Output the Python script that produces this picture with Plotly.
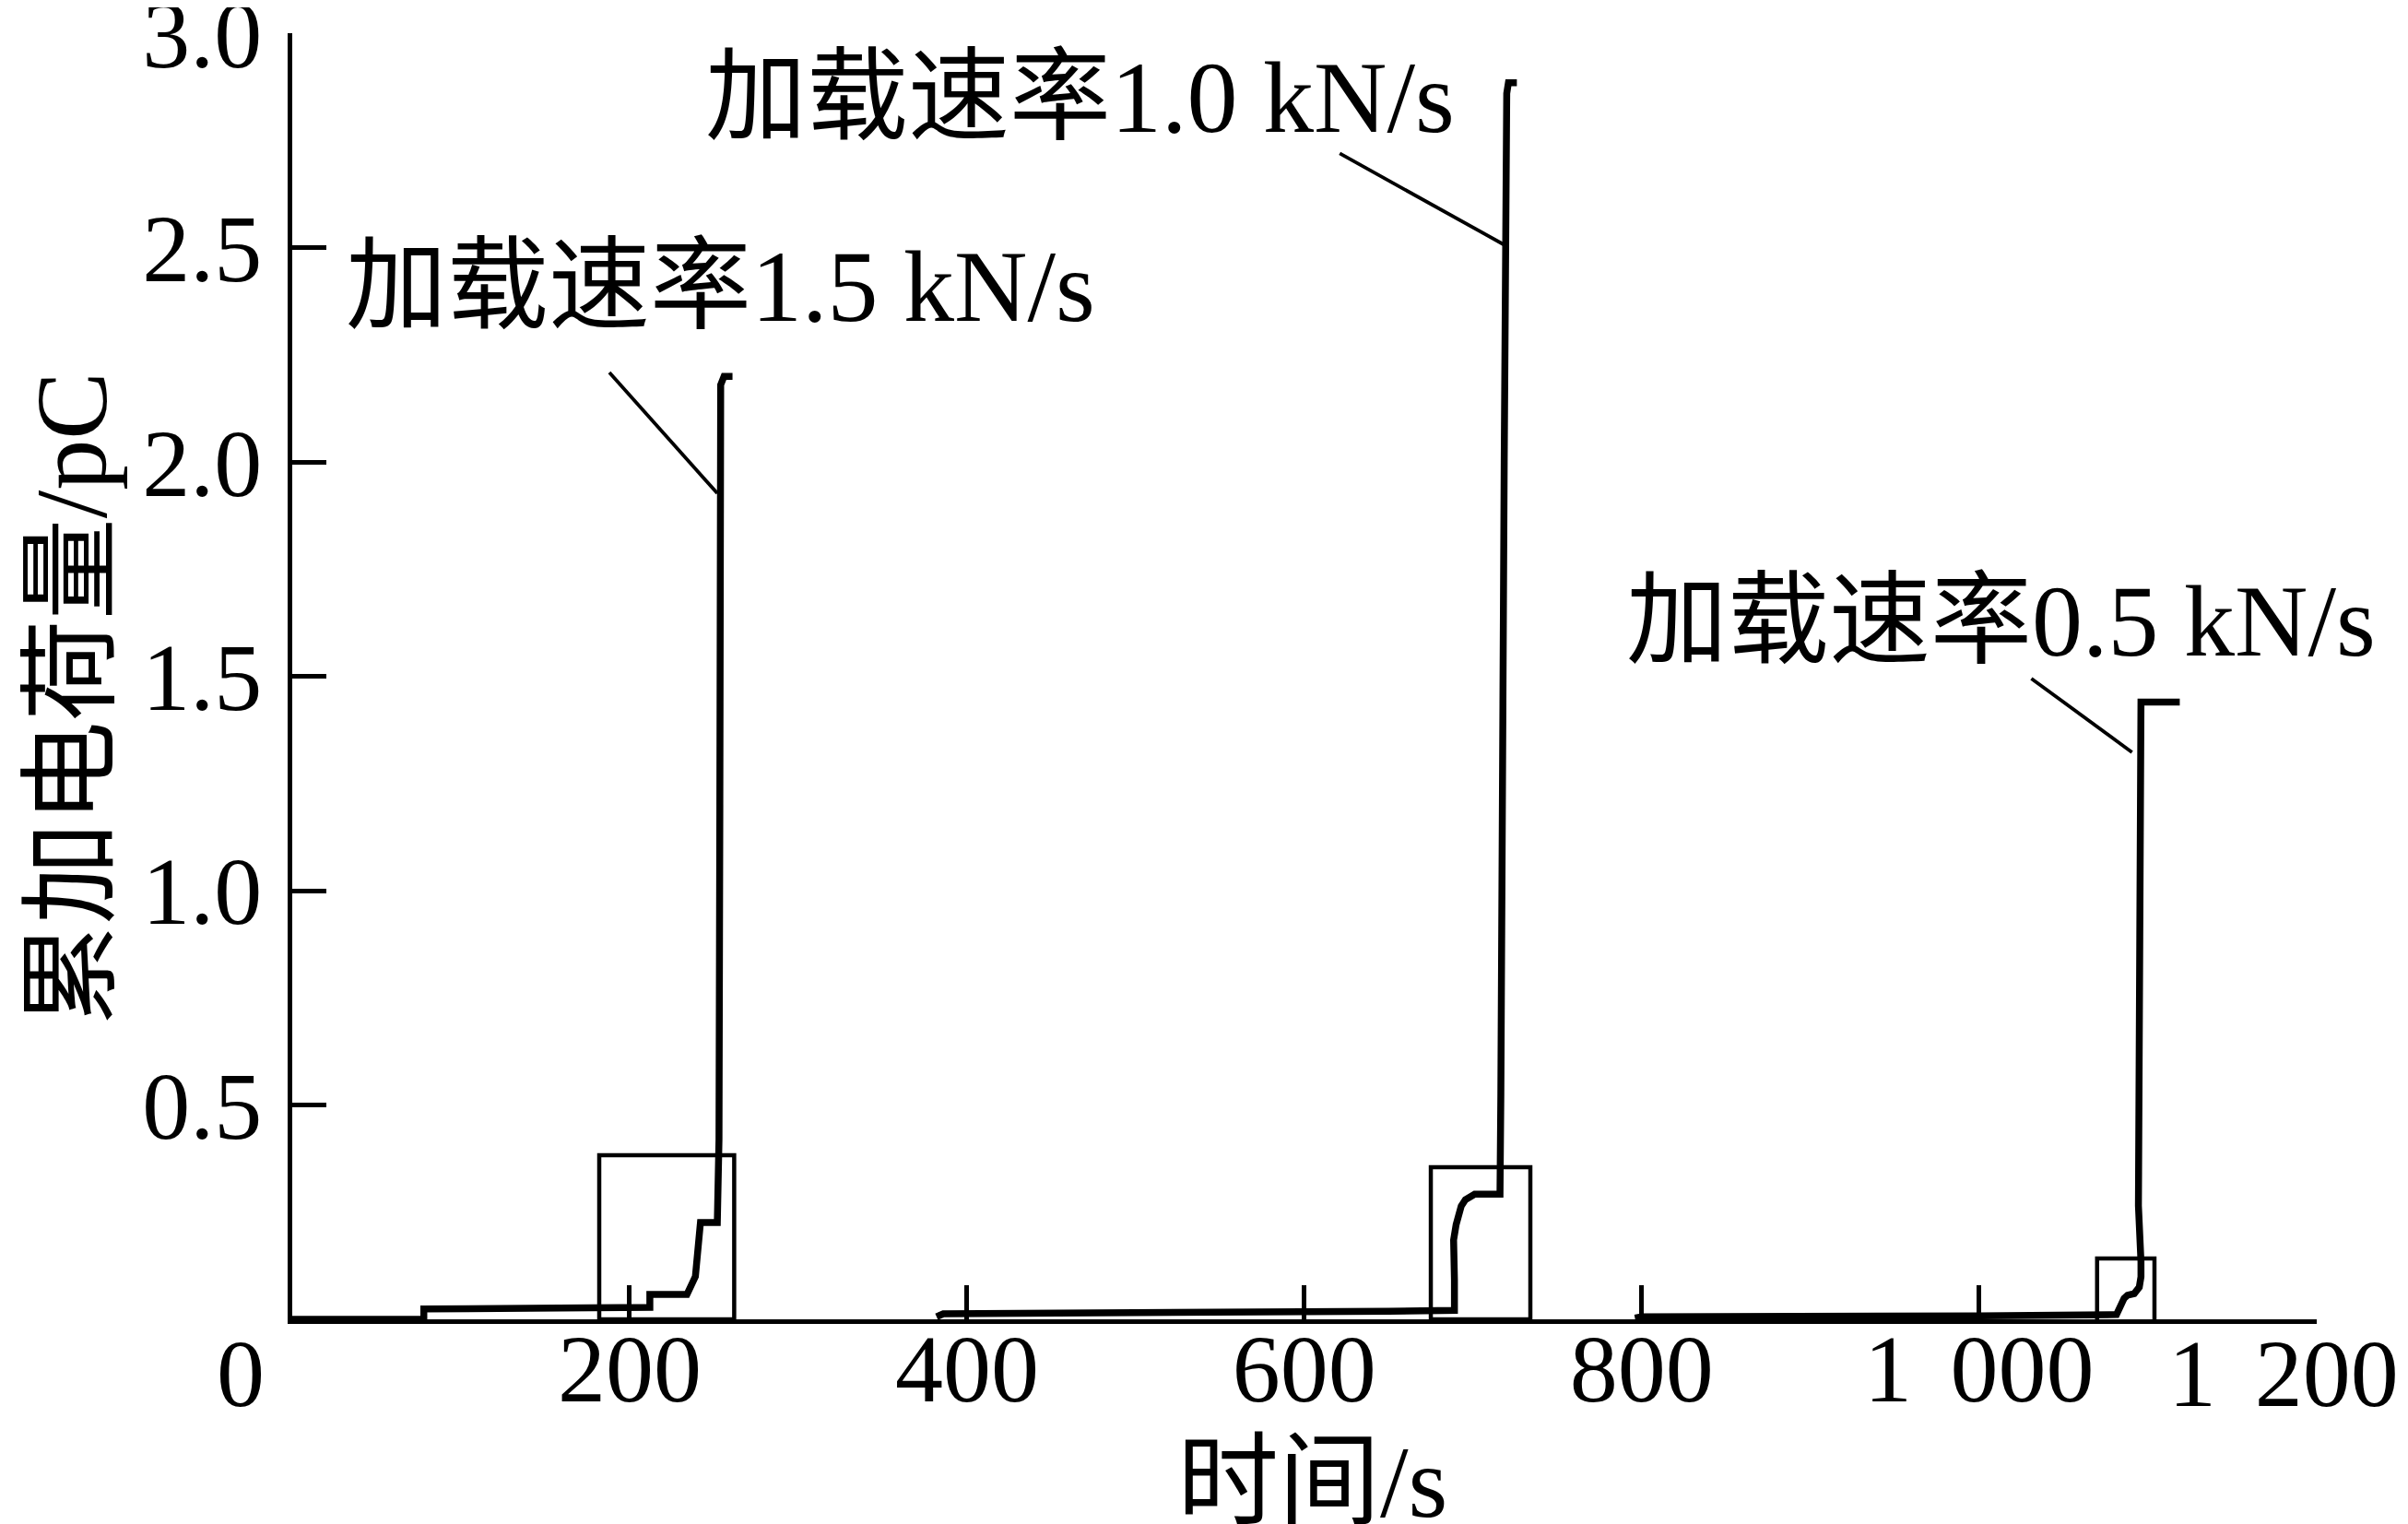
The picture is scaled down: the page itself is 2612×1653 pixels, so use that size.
import plotly.graph_objects as go

# ---- data ----
t_15 = [0, 78, 78, 212, 212, 234, 239, 242, 252, 253, 253.5, 254, 256, 261]
q_15 = [0, 0, 0.024, 0.028, 0.058, 0.058, 0.10, 0.226, 0.226, 0.42, 1.2, 2.18, 2.2, 2.2]

t_10 = [382, 386, 650, 689, 689, 688.5, 690, 693, 695.5, 701, 716, 716, 716.5, 718.5, 719.5, 720, 721, 726]
q_10 = [0.006, 0.013, 0.019, 0.021, 0.092, 0.185, 0.221, 0.264, 0.279, 0.292, 0.292, 0.357, 0.52, 2.0, 2.7, 2.86, 2.885, 2.885]

t_05 = [796, 800, 1000, 1081.5, 1086, 1088, 1092, 1095, 1096, 1096, 1094.5, 1095, 1096, 1119]
q_05 = [0.003, 0.006, 0.008, 0.011, 0.049, 0.056, 0.06, 0.075, 0.099, 0.135, 0.265, 1.42, 1.44, 1.44]

# zoom boxes
box_t0 = [182, 675, 1070]
box_t1 = [262, 734, 1104]
box_q0 = [0, 0, -0.01]
box_q1 = [0.383, 0.355, 0.142]

# labels and leader lines
labels = ["加载速率1.5 kN/s", "加载速率1.0 kN/s", "加载速率0.5 kN/s"]
label_t = [253.6, 467, 1012.8]
label_q = [2.41, 2.85, 1.628]
lead_t0 = [188, 621, 1031]
lead_q0 = [2.209, 2.72, 1.495]
lead_t1 = [252, 718, 1090.7]
lead_q1 = [1.927, 2.508, 1.323]

x_tickvals = [200, 400, 600, 800, 1000, 1200]
x_ticktext = ["200", "400", "600", "800", "1\u2009\u2009000", ""]
last_x_label = "1\u2009\u2009200"
y_tickvals = [0.5, 1.0, 1.5, 2.0, 2.5, 3.0]
y_ticktext = ["0.5", "1.0", "1.5", "2.0", "2.5", "3.0"]

x_title = "时间/s"
y_title = "累加电荷量/pC"

FONT = "Liberation Serif, Times New Roman, Noto Sans CJK SC"

fig = go.Figure()
for tt, qq in [(t_15, q_15), (t_10, q_10), (t_05, q_05)]:
    fig.add_trace(go.Scatter(x=tt, y=qq, mode="lines",
                             line=dict(color="black", width=7.5),
                             showlegend=False, hoverinfo="skip"))

shapes = []
for a, b, c, d in zip(box_t0, box_t1, box_q0, box_q1):
    shapes.append(dict(type="rect", xref="x", yref="y", x0=a, x1=b, y0=c, y1=d,
                       line=dict(color="black", width=4.5), fillcolor="rgba(0,0,0,0)"))
for a, b, c, d in zip(lead_t0, lead_t1, lead_q0, lead_q1):
    shapes.append(dict(type="line", xref="x", yref="y", x0=a, x1=b, y0=c, y1=d,
                       line=dict(color="black", width=3.8)))

annotations = []
for txt, tx, ty in zip(labels, label_t, label_q):
    annotations.append(dict(x=tx, y=ty, xref="x", yref="y", text=txt, showarrow=False,
                            xanchor="center", yanchor="middle",
                            font=dict(family=FONT, size=110, color="black")))
# "0" origin label (offset left of the axis as in the reference)
annotations.append(dict(x=0, y=0, xref="x", yref="y", text="0", showarrow=False,
                        xanchor="center", yanchor="middle", xshift=-56, yshift=-58,
                        font=dict(family=FONT, size=104, color="black")))
# last x label (shifted left as in the reference)
annotations.append(dict(x=1200, y=0, xref="x", yref="y", text=last_x_label, showarrow=False,
                        xanchor="center", yanchor="middle", xshift=-36, yshift=-58,
                        font=dict(family=FONT, size=104, color="black")))
# y-axis title
annotations.append(dict(x=0, y=1.447, xref="x", yref="y", text=y_title, showarrow=False,
                        textangle=-90, xanchor="center", yanchor="middle", xshift=-239,
                        font=dict(family=FONT, size=110, color="black")))
# x-axis title
annotations.append(dict(x=605, y=0, xref="x", yref="y", text=x_title, showarrow=False,
                        xanchor="center", yanchor="middle", yshift=-177,
                        font=dict(family=FONT, size=110, color="black")))

fig.update_layout(
    width=2612, height=1653,
    margin=dict(l=309, r=107, t=28, b=230, autoexpand=False),
    paper_bgcolor="white", plot_bgcolor="white",
    shapes=shapes, annotations=annotations,
    font=dict(family=FONT, color="black"),
    xaxis=dict(range=[0, 1200.2], showgrid=False, zeroline=False, automargin=False,
               showline=True, linecolor="black", linewidth=5,
               ticks="inside", ticklen=37, tickwidth=4.5, tickcolor="black",
               tickvals=x_tickvals, ticktext=x_ticktext,
               tickfont=dict(family=FONT, size=104, color="black"),
               ticklabelstandoff=-41, ticklabeloverflow="allow"),
    yaxis=dict(range=[0, 3.0005], showgrid=False, zeroline=False, automargin=False,
               showline=True, linecolor="black", linewidth=5,
               ticks="inside", ticklen=37, tickwidth=4.5, tickcolor="black",
               tickvals=y_tickvals, ticktext=y_ticktext,
               tickfont=dict(family=FONT, size=104, color="black"),
               ticklabelstandoff=7, ticklabeloverflow="allow"),
)

fig.write_html("out.html")
